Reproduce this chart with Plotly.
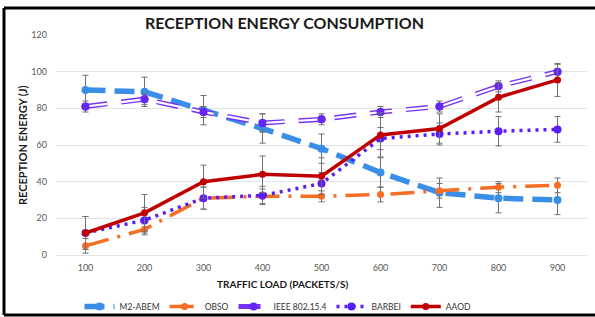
import plotly.graph_objects as go

loads = ["100", "200", "300", "400", "500", "600", "700", "800", "900"]
m2_abem = [90, 89, 79, 69, 58, 45, 34, 31, 30]
m2_abem_err = [8, 8, 8, 8, 8, 8, 8, 8, 8]
obso = [5, 14, 31, 32, 32, 33, 35, 37, 38]
obso_err = [4, 3, 6, 4, 3, 4, 4, 3, 4]
ieee = [81, 85, 78, 72, 74, 78, 81, 92, 100]
ieee_err = [3, 3, 3, 5, 3, 3, 3, 3, 4]
barbei = [12, 19, 31, 32.5, 39, 63.5, 66, 67.5, 68.5]
barbei_err = [9, 7, 6, 5, 6, 6, 6, 8, 7]
aaod = [12, 23, 40, 44, 43, 65.5, 69, 86, 95.5]
aaod_err = [9, 10, 9, 10, 10, 12, 8, 8, 9]

W, H = 595, 317
ML, MR, MT, MB = 56, 8, 35, 62
PW, PH = W - ML - MR, H - MT - MB

def px(x):
    return (x - ML) / PW

def py(y):
    return (H - MB - y) / PH

err_style = dict(type="data", color="#707070", thickness=1, width=3)

fig = go.Figure()
fig.add_trace(go.Scatter(
    x=loads, y=m2_abem, name="M2-ABEM", mode="lines+markers",
    line=dict(color="rgb(58,142,232)", width=5.5, dash="20px,9px"),
    marker=dict(color="rgb(58,142,232)", size=8),
    error_y=dict(array=m2_abem_err, **err_style)))
fig.add_trace(go.Scatter(
    x=loads, y=obso, name="OBSO", mode="lines+markers",
    line=dict(color="rgb(245,110,35)", width=3.5, dash="24px,9px,3px,9px"),
    marker=dict(color="rgb(245,110,35)", size=7),
    error_y=dict(array=obso_err, **err_style)))
fig.add_trace(go.Scatter(
    x=loads, y=ieee, name="IEEE 802.15.4", mode="lines+markers",
    line=dict(color="rgb(120,50,245)", width=5, dash="22px,14px"),
    marker=dict(color="rgb(100,40,245)", size=8),
    error_y=dict(array=ieee_err, **err_style)))
fig.add_trace(go.Scatter(
    x=loads, y=ieee, name="IEEE inner", mode="lines", showlegend=False,
    line=dict(color="white", width=2.2, dash="22px,14px"), hoverinfo="skip"))
fig.add_trace(go.Scatter(
    x=loads, y=ieee, name="IEEE markers", mode="markers", showlegend=False,
    marker=dict(color="rgb(100,40,245)", size=8), hoverinfo="skip"))
fig.add_trace(go.Scatter(
    x=loads, y=barbei, name="BARBEI", mode="lines+markers",
    line=dict(color="rgb(90,30,245)", width=3.5, dash="3px,5px"),
    marker=dict(color="rgb(90,30,245)", size=8),
    error_y=dict(array=barbei_err, **err_style)))
fig.add_trace(go.Scatter(
    x=loads, y=aaod, name="AAOD", mode="lines+markers",
    line=dict(color="rgb(192,0,0)", width=3.5),
    marker=dict(color="rgb(192,0,0)", size=7),
    error_y=dict(array=aaod_err, **err_style)))

font = "Lato, 'Open Sans', sans-serif"
annotations = [
    dict(text="<b>RECEPTION ENERGY CONSUMPTION</b>", x=px(284), y=py(22),
         font=dict(family=font, size=16, color="#1a1a1a")),
    dict(text="<b>TRAFFIC LOAD (PACKETS/S)</b>", x=px(282), y=py(284),
         font=dict(family=font, size=10, color="#1a1a1a")),
    dict(text="<b>RECEPTION ENERGY (J)</b>", x=px(22), y=py(145), textangle=-90,
         font=dict(family=font, size=11, color="#1a1a1a")),
]
for a in annotations:
    a.update(xref="paper", yref="paper", showarrow=False, xanchor="center", yanchor="middle")

border = dict(color="black", width=3)
shapes = [
    dict(type="line", xref="paper", yref="paper", x0=px(4), x1=px(600), y0=py(8), y1=py(8), line=border),
    dict(type="line", xref="paper", yref="paper", x0=px(4), x1=px(4), y0=py(8), y1=py(315), line=border),
    dict(type="line", xref="paper", yref="paper", x0=px(4), x1=px(600), y0=py(315), y1=py(315), line=border),
]

fig.update_layout(
    width=W, height=H,
    margin=dict(l=ML, r=MR, t=MT, b=MB, autoexpand=False),
    paper_bgcolor="white", plot_bgcolor="white",
    font=dict(family=font, color="#595959", size=9),
    annotations=annotations, shapes=shapes,
    showlegend=True,
    legend=dict(orientation="h", x=278 / W, xanchor="center", xref="container",
                y=1 - 292 / H, yanchor="top", yref="container",
                font=dict(family=font, size=8.5, color="#333333"),
                bgcolor="rgba(0,0,0,0)", itemwidth=30, tracegroupgap=0),
    xaxis=dict(type="category", range=[-0.5, 8.5], showgrid=False, zeroline=False,
               showline=False, ticks="", tickfont=dict(size=9, color="#595959"),
               ticklabelstandoff=6),
    yaxis=dict(range=[0, 120], dtick=20, showgrid=True, gridcolor="#e4e4e4", gridwidth=1,
               zeroline=True, zerolinecolor="#e4e4e4", zerolinewidth=1, showline=False,
               ticks="", tickfont=dict(size=9, color="#595959"), ticklabelstandoff=8),
)

fig.write_html("out.html", config={"displayModeBar": False},
               post_script="document.body.style.margin='0';document.body.style.overflow='hidden';")
